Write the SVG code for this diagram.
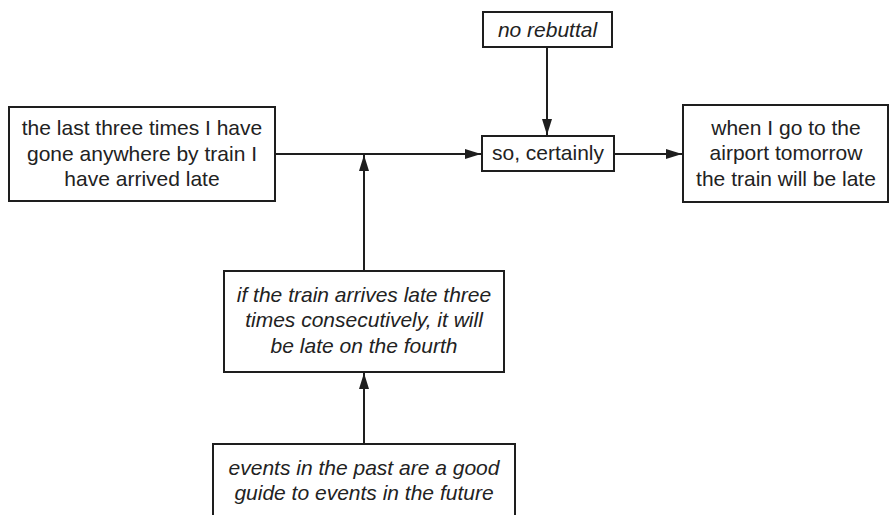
<svg xmlns="http://www.w3.org/2000/svg" width="889" height="515" viewBox="0 0 889 515">
<style>
.box{fill:#fff;stroke:#1e1e1e;stroke-width:2}
.t{font-family:"Liberation Sans",Arial,sans-serif;font-size:21px;fill:#222;text-anchor:middle}
.i{font-style:italic}
.c{stroke:#1e1e1e;stroke-width:2;fill:none}
</style>
<defs>
<marker id="ah" viewBox="0 0 16 10" refX="16" refY="5" markerWidth="16" markerHeight="10" markerUnits="userSpaceOnUse" orient="auto">
<path d="M0,0 L16,5 L0,10 Z" fill="#1e1e1e"/>
</marker>
</defs>
<rect width="889" height="515" fill="#fff"/>
<g id="connectors">
<line class="c" x1="275" y1="154" x2="481" y2="154" marker-end="url(#ah)"/>
<line class="c" x1="364" y1="271" x2="364" y2="155" marker-end="url(#ah)"/>
<line class="c" x1="547" y1="47" x2="547" y2="135" marker-end="url(#ah)"/>
<line class="c" x1="614" y1="154" x2="682" y2="154" marker-end="url(#ah)"/>
<line class="c" x1="364" y1="444" x2="364" y2="373" marker-end="url(#ah)"/>
</g>
<g id="data">
<rect class="box" x="9" y="107" width="266" height="94"/>
<text class="t" x="142" y="135">the last three times I have</text>
<text class="t" x="142" y="160.5">gone anywhere by train I</text>
<text class="t" x="142" y="186">have arrived late</text>
</g>
<g id="rebuttal">
<rect class="box" x="483" y="12" width="129" height="35"/>
<text class="t i" x="547.5" y="37">no rebuttal</text>
</g>
<g id="qualifier">
<rect class="box" x="482" y="136" width="132" height="35"/>
<text class="t" x="548" y="160">so, certainly</text>
</g>
<g id="claim">
<rect class="box" x="683" y="105" width="205" height="97"/>
<text class="t" x="786" y="134.5">when I go to the</text>
<text class="t" x="786" y="160">airport tomorrow</text>
<text class="t" x="786" y="185.5">the train will be late</text>
</g>
<g id="warrant">
<rect class="box" x="224" y="271" width="280" height="101"/>
<text class="t i" x="364" y="301.5">if the train arrives late three</text>
<text class="t i" x="364" y="327">times consecutively, it will</text>
<text class="t i" x="364" y="352.5">be late on the fourth</text>
</g>
<g id="backing">
<rect class="box" x="213" y="444" width="302" height="90"/>
<text class="t i" x="364" y="475">events in the past are a good</text>
<text class="t i" x="364" y="500">guide to events in the future</text>
</g>
</svg>
